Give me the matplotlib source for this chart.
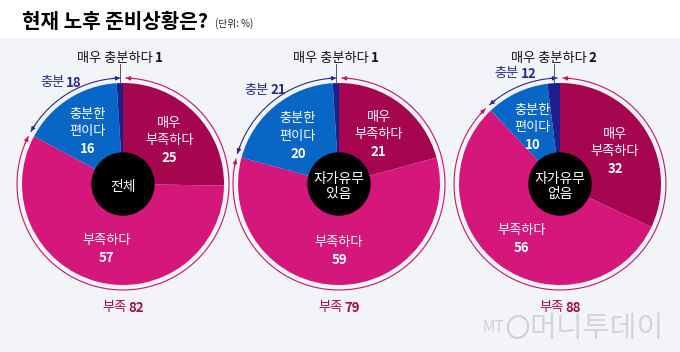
import matplotlib.pyplot as plt
import numpy as np
from matplotlib.patches import Circle, Rectangle, Ellipse

plt.rcParams['font.family'] = ['Noto Sans CJK KR', 'DejaVu Sans']

groups = ['전체', '자가유무\n있음', '자가유무\n없음']
segment_names = ['매우\n부족하다', '부족하다', '충분한\n편이다', '매우 충분하다']
very_short = [25, 21, 32]
short = [57, 59, 56]
enough = [16, 20, 10]
very_enough = [1, 1, 2]
short_total = [82, 79, 88]
enough_total = [18, 21, 12]

colors = ['#a6064f', '#d5167a', '#0866c6', '#1f1f8c']
short_color = '#a3094f'
enough_color = '#2a2a8c'
ring_short = '#c2156c'
bg = '#f3f4f8'

W, H = 680, 352
fig = plt.figure(figsize=(W / 100, H / 100), dpi=100)
ax = fig.add_axes([0, 0, 1, 1])
ax.set_xlim(0, W)
ax.set_ylim(0, H)
ax.axis('off')
fig.patch.set_facecolor(bg)

dy = -2.5  # small downward nudge for CJK text centring

# white title band
ax.add_patch(Rectangle((0, H - 37), W, 37, color='white', zorder=0))
ax.text(22, H - 19 + dy, '현재 노후 준비상황은?', fontsize=14.5, weight='bold', va='center', ha='left')
ax.text(215, H - 21 + dy, '(단위: %)', fontsize=7, va='center', ha='left', color='#222222')

renderer = fig.canvas.get_renderer()


def two_part(x, y, a, b, color, size):
    t1 = ax.text(x, y + dy, a, ha='left', va='center', fontsize=size, color=color, weight='medium')
    t2 = ax.text(x, y + dy, b, ha='left', va='center', fontsize=size, color=color, weight='bold')
    w1 = t1.get_window_extent(renderer).width
    w2 = t2.get_window_extent(renderer).width
    gap = 1.5
    x0 = x - (w1 + gap + w2) / 2
    t1.set_x(x0)
    t2.set_x(x0 + w1 + gap)


def pt(cx, cy, r, ang):
    a = np.deg2rad(ang)
    return cx + r * np.cos(a), cy + r * np.sin(a)


def ring_arc(cx, cy, r, a_start, a_end, color):
    # a_start > a_end, clockwise
    gap = 1.6
    angs = np.linspace(a_start - gap, a_end + gap, 200)
    xs, ys = pt(cx, cy, r, angs)
    ax.plot(xs, ys, color=color, lw=0.8, zorder=3)
    for a_tip, a_from in [(a_start - gap, a_start - gap - 4), (a_end + gap, a_end + gap + 4)]:
        ax.annotate('', xy=pt(cx, cy, r, a_tip), xytext=pt(cx, cy, r, a_from),
                    arrowprops=dict(arrowstyle='-|>', color=color, lw=0.8,
                                    mutation_scale=6, shrinkA=0, shrinkB=0), zorder=4)


centers_x = [123, 339, 560]
cy = H - 184
R = 101
line_h = 17.5

for i, cx in enumerate(centers_x):
    vals = [very_short[i], short[i], enough[i], very_enough[i]]
    wedges, _ = ax.pie(vals, center=(cx, cy), radius=R, startangle=90, counterclock=False,
                       colors=colors, wedgeprops=dict(linewidth=0))
    ax.set_xlim(0, W)
    ax.set_ylim(0, H)

    # segment labels
    for j in range(3):
        w = wedges[j]
        mid = (w.theta1 + w.theta2) / 2
        lx, ly = pt(cx, cy, R * 0.645, mid)
        lines = segment_names[j].split('\n') + [str(vals[j])]
        n = len(lines)
        for k, s in enumerate(lines):
            yy = ly + (n - 1) / 2 * line_h - k * line_h + dy
            ax.text(lx, yy, s, ha='center', va='center', color='white', fontsize=9.5,
                    weight='bold' if k == n - 1 else 'medium', zorder=5)

    # center circle
    ax.add_patch(Circle((cx, cy), 31, color='black', zorder=5))
    ax.text(cx, cy + dy, groups[i], ha='center', va='center', color='white', fontsize=10,
            linespacing=1.05, weight='medium', zorder=6)

    # outer ring
    b = wedges[1].theta1  # boundary between 부족 and 충분 (standard degrees)
    b = b if b <= 90 else b - 360
    ring_arc(cx, cy, R + 5, 90, b, ring_short)
    ring_arc(cx, cy, R + 5, b, -270, enough_color)

    # 매우 충분하다 label with leader line
    wv = wedges[3]
    midv = (wv.theta1 + wv.theta2) / 2
    vx, vy = pt(cx, cy, R, midv)
    ax.plot([vx, vx], [vy, H - 64], color='#555555', lw=0.7, zorder=4)
    two_part(vx, H - 56, segment_names[3], str(very_enough[i]), '#111111', 9.5)

    # 충분 total label
    mid_e = (b - 270) / 2
    ex, ey = pt(cx, cy, 121, mid_e)
    two_part(ex, ey, '충분', str(enough_total[i]), enough_color, 9.5)

    # 부족 total label
    two_part(cx, cy - R - 20, '부족', str(short_total[i]), short_color, 9.5)

# watermark
ax.text(482, H - 327, 'MT', fontsize=11, style='italic', color='#cfcfd4', va='center', ha='left')
ax.add_patch(Ellipse((518, H - 327), 20, 22, angle=-20, fill=False, ec='#cfcfd4', lw=1.5))
ax.text(530, H - 329, '머니투데이', fontsize=21, color='#d4d4d9', va='center', ha='left',
        weight='light')

fig.savefig('out.png', dpi=100, facecolor=bg)
